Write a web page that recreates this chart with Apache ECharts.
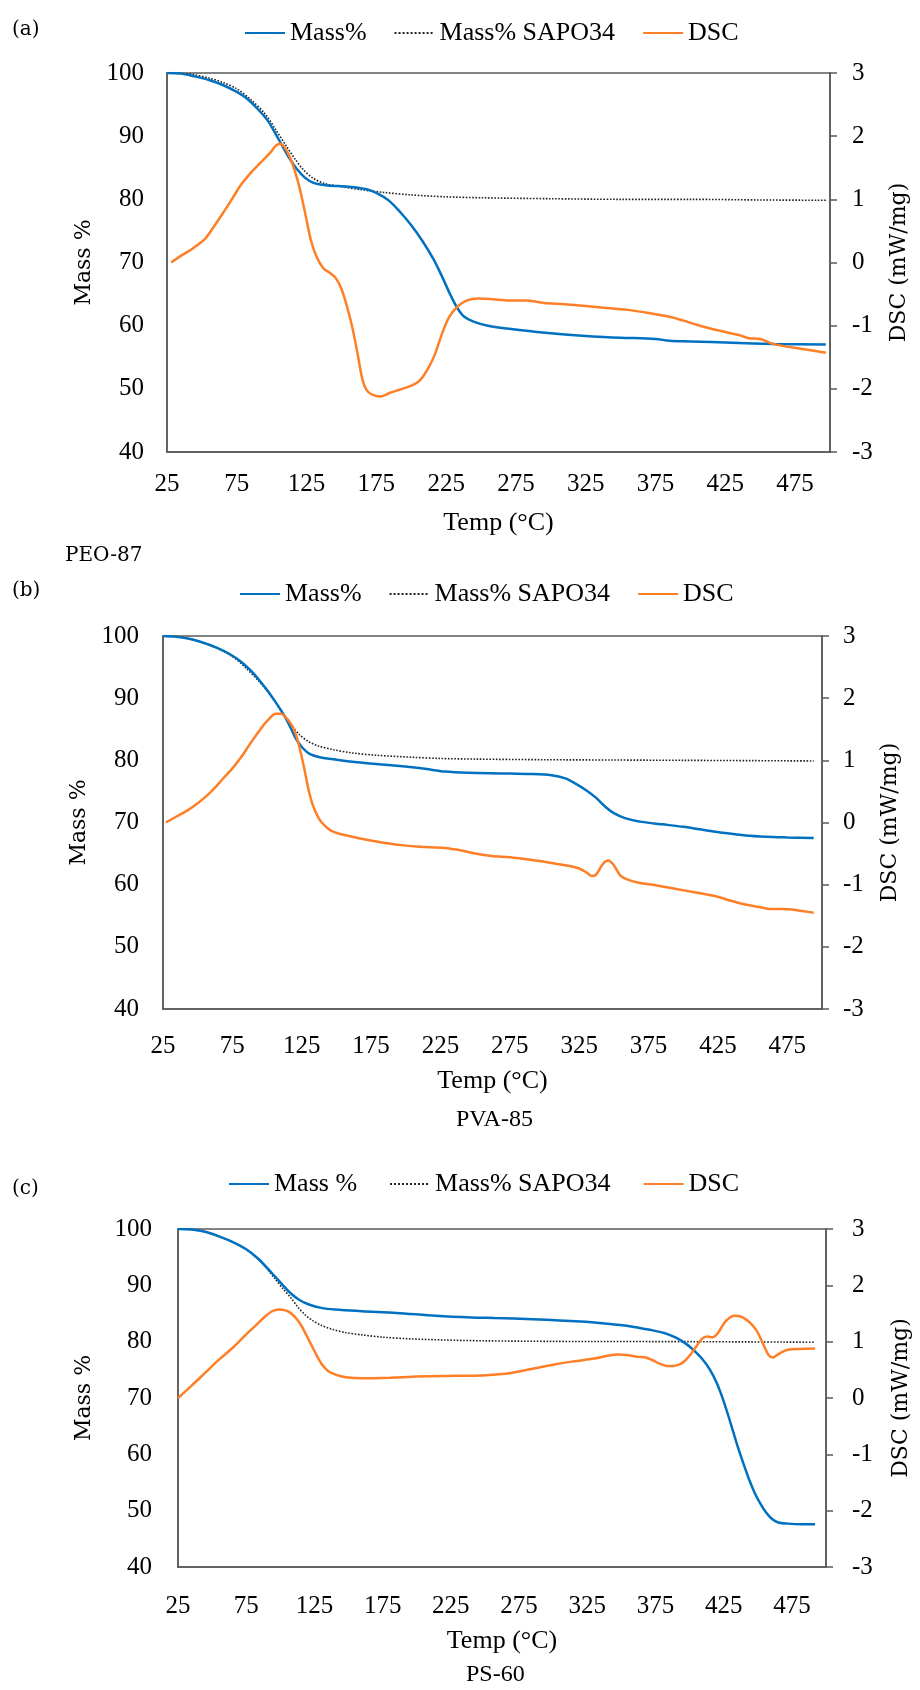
<!DOCTYPE html>
<html>
<head>
<meta charset="utf-8">
<script src="https://cdn.jsdelivr.net/npm/echarts@6/dist/echarts.min.js"></script>
<style>
html,body{margin:0;padding:0;background:#fff;}
#chart{width:920px;height:1690px;}
</style>
</head>
<body>
<div id="chart"></div>
<script>
// ---------- DATA ----------
// x tick labels (°C)
const xMin = 25, xMax = 500, xStep = 50;
const massTicks = [40, 50, 60, 70, 80, 90, 100];
const dscTicks = [-3, -2, -1, 0, 1, 2, 3];

// Panel (a) PEO-87  [Temp °C, value]
const aMass = [[25,100],[35,99.9],[44,99.5],[55,98.9],[65,98.1],[75,97.0],[82,96.0],[90,94.3],[97,92.5],[103,90.3],[108,88.3],[113,86.4],[118,84.8],[124,83.4],[130,82.6],[140,82.2],[155,82.0],[168,81.6],[176,80.9],[184,79.8],[192,78.0],[200,75.9],[208,73.4],[216,70.5],[222,67.8],[228,64.9],[233,62.8],[238,61.4],[245,60.6],[255,60.0],[270,59.5],[290,59.0],[310,58.6],[330,58.3],[350,58.1],[375,57.9],[385,57.6],[400,57.5],[430,57.3],[460,57.1],[497,57.0]];
const aSapo = [[25,100],[35,99.95],[45,99.7],[55,99.2],[65,98.5],[75,97.5],[85,95.8],[95,93.6],[103,91.0],[110,88.6],[117,86.3],[123,84.6],[130,83.3],[138,82.5],[150,82.0],[165,81.5],[180,81.1],[200,80.7],[225,80.4],[250,80.25],[300,80.1],[350,80.0],[400,80.0],[450,79.9],[497,79.85]];
const aDsc = [[28,0],[36,0.12],[44,0.23],[52,0.37],[58,0.55],[65,0.78],[72,1.02],[78,1.23],[85,1.42],[92,1.58],[99,1.74],[103,1.85],[106,1.88],[109,1.83],[113,1.67],[117,1.42],[120,1.18],[124,0.78],[128,0.36],[132,0.10],[137,-0.09],[142,-0.17],[146,-0.25],[150,-0.42],[154,-0.70],[158,-1.05],[162,-1.50],[165,-1.85],[168,-2.02],[172,-2.09],[178,-2.12],[184,-2.07],[192,-2.01],[200,-1.95],[206,-1.87],[212,-1.68],[217,-1.45],[222,-1.13],[227,-0.87],[233,-0.70],[240,-0.60],[248,-0.57],[258,-0.58],[270,-0.60],[282,-0.60],[295,-0.64],[310,-0.66],[325,-0.69],[340,-0.72],[355,-0.75],[370,-0.80],[385,-0.86],[395,-0.92],[405,-0.99],[415,-1.05],[425,-1.10],[435,-1.15],[442,-1.20],[450,-1.21],[458,-1.28],[466,-1.32],[478,-1.36],[497,-1.43]];

// Panel (b) PVA-85
const bMass = [[25,100],[33,99.9],[43,99.6],[53,99.0],[64,98.1],[73,97.1],[81,95.9],[88,94.5],[94,93.0],[100,91.3],[106,89.4],[111,87.7],[116,85.7],[121,83.4],[126,81.9],[131,81.0],[138,80.5],[150,80.1],[165,79.7],[185,79.3],[205,78.9],[215,78.6],[228,78.2],[245,78.0],[270,77.9],[290,77.8],[305,77.6],[315,77.1],[322,76.3],[330,75.2],[337,74.0],[344,72.5],[350,71.5],[358,70.7],[370,70.1],[385,69.7],[400,69.3],[415,68.8],[430,68.3],[445,67.9],[460,67.7],[475,67.6],[494,67.5]];
const bSapo = [[25,100],[35,99.9],[47,99.4],[57,98.7],[68,97.6],[77,96.4],[85,94.8],[93,93.0],[100,91.2],[106,89.4],[111,87.6],[117,85.8],[123,84.2],[130,83.0],[137,82.3],[148,81.7],[161,81.2],[180,80.8],[204,80.5],[225,80.3],[250,80.2],[300,80.1],[350,80.05],[400,80.0],[450,79.95],[494,79.9]];
const bDsc = [[27,0],[35,0.1],[43,0.2],[50,0.31],[56,0.42],[62,0.55],[68,0.70],[75,0.87],[81,1.04],[87,1.24],[93,1.43],[98,1.58],[102,1.68],[106,1.75],[110,1.75],[114,1.68],[118,1.56],[121,1.40],[124,1.15],[127,0.85],[130,0.52],[133,0.28],[137,0.08],[141,-0.04],[146,-0.13],[152,-0.18],[160,-0.22],[170,-0.27],[180,-0.31],[195,-0.36],[210,-0.39],[228,-0.41],[240,-0.45],[250,-0.50],[262,-0.54],[275,-0.56],[290,-0.60],[305,-0.65],[318,-0.70],[325,-0.74],[330,-0.80],[334,-0.86],[337,-0.84],[340,-0.74],[343,-0.64],[346,-0.61],[349,-0.66],[352,-0.76],[355,-0.86],[360,-0.92],[368,-0.97],[380,-1.01],[395,-1.07],[410,-1.13],[424,-1.19],[433,-1.25],[443,-1.31],[455,-1.36],[463,-1.39],[472,-1.39],[482,-1.41],[494,-1.45]];

// Panel (c) PS-60
const cMass = [[25,100],[35,99.9],[45,99.5],[55,98.7],[66,97.6],[75,96.4],[83,94.9],[90,93.2],[96,91.6],[102,90.0],[108,88.5],[114,87.4],[121,86.6],[130,86.0],[140,85.7],[160,85.4],[185,85.1],[214,84.6],[240,84.3],[257,84.2],[285,84.0],[320,83.6],[340,83.2],[355,82.8],[371,82.1],[382,81.5],[390,80.7],[397,79.7],[403,78.5],[409,77.0],[415,75.0],[420,72.6],[425,69.4],[430,65.6],[435,61.6],[440,58.0],[444,55.3],[448,53.0],[452,51.2],[456,49.7],[460,48.6],[465,47.9],[472,47.7],[482,47.6],[492,47.6]];
const cSapo = [[25,100],[35,99.9],[45,99.5],[55,98.7],[66,97.6],[75,96.4],[83,94.8],[90,93.0],[96,91.2],[102,89.4],[108,87.7],[113,86.1],[118,84.8],[124,83.7],[130,82.9],[138,82.2],[148,81.6],[160,81.2],[175,80.8],[195,80.5],[220,80.3],[250,80.15],[300,80.05],[400,80.0],[492,79.9]];
const cDsc = [[25,0],[35,0.22],[45,0.45],[55,0.68],[66,0.91],[75,1.13],[83,1.31],[89,1.45],[94,1.54],[99,1.57],[103,1.56],[107,1.52],[111,1.43],[115,1.30],[119,1.12],[123,0.93],[127,0.74],[131,0.58],[135,0.48],[141,0.41],[148,0.37],[160,0.35],[180,0.36],[200,0.38],[220,0.39],[248,0.40],[260,0.42],[270,0.45],[285,0.52],[300,0.59],[315,0.65],[330,0.70],[340,0.75],[348,0.77],[355,0.76],[362,0.73],[368,0.72],[373,0.67],[378,0.61],[383,0.57],[388,0.57],[393,0.60],[397,0.67],[401,0.78],[405,0.92],[409,1.05],[413,1.09],[417,1.08],[421,1.16],[425,1.32],[429,1.42],[433,1.46],[437,1.45],[441,1.40],[445,1.32],[449,1.20],[452,1.06],[455,0.90],[458,0.76],[461,0.72],[464,0.76],[468,0.82],[473,0.86],[480,0.87],[492,0.88]];

const panelLetters = ['(a)', '(b)', '(c)'];
const sampleNames = ['PEO-87', 'PVA-85', 'PS-60'];
const massNames = ['Mass%', 'Mass%', 'Mass %'];
const sapoName = 'Mass% SAPO34';
const dscName = 'DSC';
const xTitle = 'Temp (°C)';
const yLeftTitle = 'Mass %';
const yRightTitle = 'DSC (mW/mg)';

// ---------- LAYOUT / STYLE ----------
const BLUE = '#0070C0', ORANGE = '#FF7F27', AX = '#595959';
const SERIF = 'Liberation Serif', PAL = 'DejaVu Serif';
const panels = [
  {grid:{left:167, top:73, width:663, height:379}, legendLeft:244, legendTop:20, gap:27,
   xm:20, xg:58, lm:23, rm:22, lg:66, rg:58, mass:aMass, sapo:aSapo, dsc:aDsc},
  {grid:{left:163, top:636, width:659, height:373}, legendLeft:239, legendTop:581, gap:27,
   xm:25, xg:59, lm:24, rm:21, lg:64, rg:57, mass:bMass, sapo:bSapo, dsc:bDsc},
  {grid:{left:178, top:1229, width:654, height:338}, legendLeft:228, legendTop:1171, gap:32,
   xm:27, xg:61, lm:26, rm:26, lg:83, rg:64, mass:cMass, sapo:cSapo, dsc:cDsc}
];
const letterPos = [{left:12, top:20}, {left:12, top:581}, {left:12, top:1179}];
const samplePos = [{left:65, top:546}, {left:456, top:1108}, {left:466, top:1663}];

const grids = [], xAxes = [], yAxes = [], series = [], legends = [], titles = [];
panels.forEach((p, i) => {
  grids.push(Object.assign({show:true, borderColor:AX, borderWidth:1.5, backgroundColor:'transparent'}, p.grid));
  xAxes.push({
    gridIndex:i, type:'value', min:xMin, max:xMax, interval:xStep,
    axisLine:{show:true, onZero:false, lineStyle:{color:AX, width:1.5}}, axisTick:{show:false}, splitLine:{show:false},
    axisLabel:{fontFamily:SERIF, fontSize:25, color:'#000', margin:p.xm, showMaxLabel:false,
      formatter: v => (v === xMax ? '' : String(v))},
    name:xTitle, nameLocation:'middle', nameGap:p.xg,
    nameTextStyle:{fontFamily:SERIF, fontSize:26, color:'#000'}
  });
  yAxes.push({
    gridIndex:i, type:'value', position:'left', min:massTicks[0], max:massTicks[massTicks.length-1], interval:10,
    axisLine:{show:true, onZero:false, lineStyle:{color:AX, width:1.5}}, axisTick:{show:false}, splitLine:{show:false},
    axisLabel:{fontFamily:SERIF, fontSize:25, color:'#000', margin:p.lm},
    name:yLeftTitle, nameLocation:'middle', nameRotate:90, nameGap:p.lg,
    nameTextStyle:{fontFamily:PAL, fontSize:22, color:'#000'}
  });
  yAxes.push({
    gridIndex:i, type:'value', position:'right', min:dscTicks[0], max:dscTicks[dscTicks.length-1], interval:1,
    axisLine:{show:true, onZero:false, lineStyle:{color:AX, width:1.5}},
    axisTick:{show:true, inside:false, length:7, lineStyle:{color:AX, width:1.5}}, splitLine:{show:false},
    axisLabel:{fontFamily:SERIF, fontSize:25, color:'#000', margin:p.rm},
    name:yRightTitle, nameLocation:'middle', nameRotate:90, nameGap:p.rg,
    nameTextStyle:{fontFamily:PAL, fontSize:22, color:'#000'}
  });
  const common = {type:'line', xAxisIndex:i, symbol:'none', showSymbol:false, smooth:0.3, animation:false};
  series.push(Object.assign({}, common, {name:massNames[i], yAxisIndex:2*i, data:p.mass, z:3,
    lineStyle:{color:BLUE, width:2.5}, itemStyle:{color:BLUE}}));
  series.push(Object.assign({}, common, {name:sapoName, yAxisIndex:2*i, data:p.sapo, z:2,
    lineStyle:{color:'#222', width:1.6, type:'dotted'}, itemStyle:{color:'#222'}}));
  series.push(Object.assign({}, common, {name:dscName, yAxisIndex:2*i+1, data:p.dsc, z:4,
    lineStyle:{color:ORANGE, width:2.5}, itemStyle:{color:ORANGE}}));
  legends.push({
    left:p.legendLeft, top:p.legendTop, padding:0, itemGap:p.gap, itemWidth:40, itemHeight:14,
    data:[massNames[i], sapoName, dscName],
    itemStyle:{color:'rgba(0,0,0,0)', borderColor:'rgba(0,0,0,0)', borderWidth:0, opacity:0},
    textStyle:{fontFamily:SERIF, fontSize:26, color:'#000'}
  });
  titles.push({text:panelLetters[i], left:letterPos[i].left, top:letterPos[i].top, padding:0,
    textStyle:{fontFamily:PAL, fontSize:20, fontWeight:'normal', color:'#000'}});
  titles.push({text:sampleNames[i], left:samplePos[i].left, top:samplePos[i].top, padding:0,
    textStyle:{fontFamily: i === 0 ? PAL : SERIF, fontSize: i === 0 ? 20 : 24, fontWeight:'normal', color:'#000'}});
});

const chart = echarts.init(document.getElementById('chart'), null, {renderer:'canvas'});
chart.setOption({
  animation:false,
  backgroundColor:'#fff',
  title:titles, legend:legends, grid:grids, xAxis:xAxes, yAxis:yAxes, series:series
});
</script>
</body>
</html>
